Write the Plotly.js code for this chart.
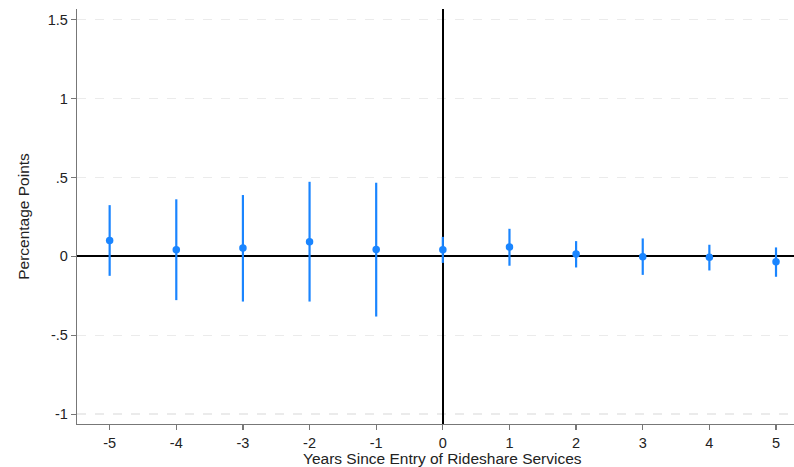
<!DOCTYPE html>
<html>
<head>
<meta charset="utf-8">
<script src="https://cdn.plot.ly/plotly-3.0.1.min.js"></script>
<style>html,body{margin:0;padding:0;background:#fff;}#chart{width:794px;height:467px;}</style>
</head>
<body>
<div id="chart"></div>
<script>
const years = [-5, -4, -3, -2, -1, 0, 1, 2, 3, 4, 5];
const estimates = [0.101, 0.042, 0.053, 0.093, 0.044, 0.042, 0.059, 0.015, -0.002, -0.006, -0.034];
const ciUpper = [0.325, 0.362, 0.389, 0.473, 0.467, 0.124, 0.175, 0.097, 0.114, 0.074, 0.057];
const ciLower = [-0.123, -0.277, -0.286, -0.286, -0.381, -0.041, -0.059, -0.070, -0.117, -0.089, -0.129];
const yTickVals = [-1, -0.5, 0, 0.5, 1, 1.5];
const yTickText = ["-1", "-.5", "0", ".5", "1", "1.5"];
const xTitle = 'Years Since Entry of Rideshare Services';
const yTitle = 'Percentage Points';

const errPlus = ciUpper.map((u, i) => u - estimates[i]);
const errMinus = estimates.map((e, i) => e - ciLower[i]);

const trace = {
  x: years,
  y: estimates,
  type: 'scatter',
  mode: 'markers',
  marker: {color: '#1a85ff', size: 7.5},
  error_y: {
    type: 'data', symmetric: false,
    array: errPlus, arrayminus: errMinus,
    color: '#1a85ff', thickness: 2.2, width: 0
  },
  showlegend: false,
  hoverinfo: 'x+y'
};

const font = {family: 'Liberation Sans, Arial, Helvetica, sans-serif', size: 15, color: '#222'};

const layout = {
  width: 794, height: 467,
  margin: {l: 77, r: 0, t: 9, b: 43, pad: 0},
  paper_bgcolor: '#fff', plot_bgcolor: '#fff',
  font: font,
  showlegend: false,
  xaxis: {
    range: [-5.49, 5.27],
    tickvals: years,
    ticktext: years.map(String),
    ticks: 'outside', ticklen: 5, tickwidth: 1.2, tickcolor: '#777',
    showline: true, linecolor: '#777', linewidth: 1.2,
    showgrid: false,
    zeroline: true, zerolinecolor: '#000', zerolinewidth: 2,
    tickfont: {size: 14.5, color: '#222'},
    automargin: false,
    fixedrange: true
  },
  yaxis: {
    range: [-1.062, 1.568],
    tickvals: yTickVals,
    ticktext: yTickText,
    ticks: 'outside', ticklen: 5, tickwidth: 1.2, tickcolor: '#777',
    showline: true, linecolor: '#777', linewidth: 1.2,
    showgrid: true, gridcolor: '#ebebeb', gridwidth: 1.5, griddash: 'dash',
    zeroline: true, zerolinecolor: '#000', zerolinewidth: 2,
    tickfont: {size: 14.5, color: '#222'},
    title: {text: yTitle, font: {size: 15.5, color: '#222'}, standoff: 14},
    automargin: false,
    fixedrange: true
  },
  annotations: [{
    text: xTitle,
    xref: 'x', x: 0,
    yref: 'paper', y: -0.0627, yshift: 1,
    xanchor: 'center', yanchor: 'top',
    borderpad: 0,
    showarrow: false,
    font: {size: 15.5, color: '#222'}
  }]
};

Plotly.newPlot('chart', [trace], layout, {displayModeBar: false, staticPlot: true});
</script>
</body>
</html>
